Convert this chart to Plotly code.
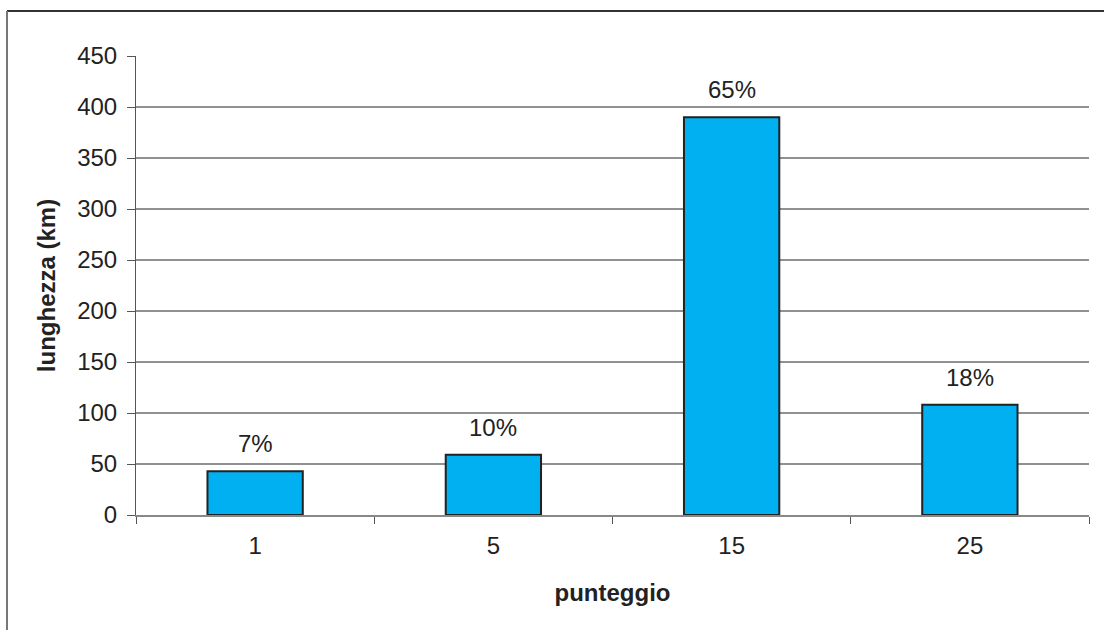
import plotly.graph_objects as go

categories = ["1", "5", "15", "25"]
lengths_km = [43, 59, 390, 108]
pct_labels = ["7%", "10%", "65%", "18%"]
y_ticks = [0, 50, 100, 150, 200, 250, 300, 350, 400, 450]
grid_values = [50, 100, 150, 200, 250, 300, 350, 400]

W, H = 1104, 630
L, R, T, B = 136, 15, 56, 115
pw, ph = W - L - R, H - T - B

FONT = "Liberation Sans, Arial, sans-serif"
FS = 24

fig = go.Figure()
fig.add_trace(go.Bar(
    x=categories, y=lengths_km, width=0.4,
    marker=dict(color="#00B0F0", line=dict(color="#222222", width=2)),
    hoverinfo="x+y",
))

shapes = []
for g in grid_values:
    shapes.append(dict(type="line", xref="paper", yref="y", x0=0, x1=1, y0=g, y1=g,
                       line=dict(color="#222222", width=1), layer="below"))
# outer frame (top and left edges visible)
fx = (7 - L) / pw
fy = 1 + (T - 11) / ph
shapes.append(dict(type="line", xref="paper", yref="paper", x0=fx, x1=1 + (R + 5) / pw,
                   y0=fy, y1=fy, line=dict(color="#333333", width=2)))
shapes.append(dict(type="line", xref="paper", yref="paper", x0=fx, x1=fx,
                   y0=fy, y1=-(B + 5) / ph, line=dict(color="#777777", width=2)))

annotations = []
for i, (v, t) in enumerate(zip(lengths_km, pct_labels)):
    annotations.append(dict(x=i, xref="x", y=v, yref="y", text=t, showarrow=False,
                            yanchor="bottom", yshift=12,
                            font=dict(family=FONT, size=FS, color="#222222")))

fig.update_layout(
    width=W, height=H,
    margin=dict(l=L, r=R, t=T, b=B),
    paper_bgcolor="white", plot_bgcolor="white",
    showlegend=False,
    shapes=shapes, annotations=annotations,
    font=dict(family=FONT, size=FS, color="#222222"),
)
fig.update_xaxes(
    type="category", tickson="boundaries", ticks="outside", ticklen=7,
    tickcolor="#555555", showline=True, linecolor="#888888", linewidth=2,
    showgrid=False, range=[-0.5, 3.5], ticklabelstandoff=8,
    tickfont=dict(family=FONT, size=FS, color="#222222"),
    title=dict(text="<b>punteggio</b>", font=dict(family=FONT, size=FS, color="#222222"), standoff=26),
)
fig.update_yaxes(
    range=[0, 450], tickvals=y_ticks, ticks="outside", ticklen=8,
    tickcolor="#555555", showline=True, linecolor="#555555", linewidth=1,
    showgrid=False, zeroline=False, ticklabelstandoff=5,
    tickfont=dict(family=FONT, size=FS, color="#222222"),
    title=dict(text="<b>lunghezza (km)</b>", font=dict(family=FONT, size=FS, color="#222222"), standoff=14),
)

fig.write_html("out.html")
